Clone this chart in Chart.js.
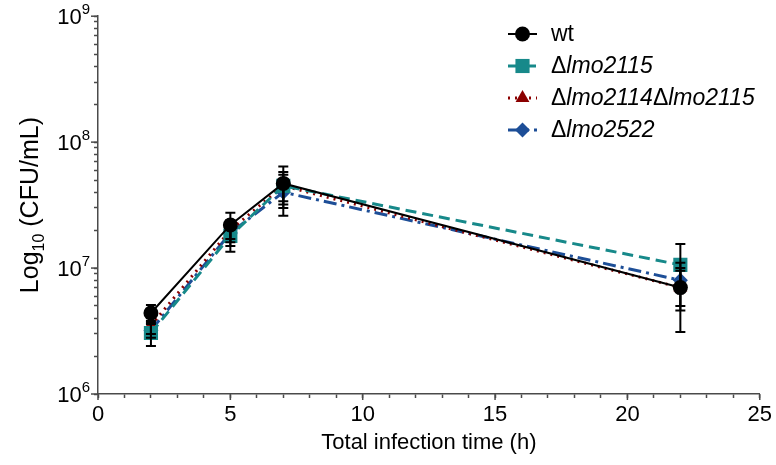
<!DOCTYPE html>
<html><head><meta charset="utf-8">
<script src="https://cdn.jsdelivr.net/npm/chart.js@4.4.1/dist/chart.umd.min.js"></script>
<style>html,body{margin:0;padding:0;background:#fff}#wrap{width:776px;height:465px}</style>
</head><body><div id="wrap"><canvas id="c" width="776" height="465"></canvas></div>
<script>
// ---- data ----
const times = [2, 5, 7, 22];
const seriesNames = ['wt', 'Δlmo2115', 'Δlmo2114Δlmo2115', 'Δlmo2522'];
const wtVals = [4.4e6, 2.2e7, 4.7e7, 7.0e6];
const wtHi   = [5.1e6, 2.75e7, 6.4e7, 1.0e7];
const wtLo   = [3.8e6, 1.7e7, 3.4e7, 4.6e6];
const d2115Vals = [3.05e6, 1.8e7, 4.5e7, 1.06e7];
const d2115Hi   = [3.6e6, 2.2e7, 5.5e7, 1.55e7];
const d2115Lo   = [2.4e6, 1.35e7, 2.6e7, 7.2e6];
const d2114Vals = [3.5e6, 2.0e7, 4.5e7, 7.0e6];
const d2114Hi   = [4.0e6, 2.4e7, 5.8e7, 9.5e6];
const d2114Lo   = [3.0e6, 1.6e7, 3.2e7, 5.0e6];
const d2522Vals = [3.2e6, 1.9e7, 4.0e7, 8.0e6];
const d2522Hi   = [3.7e6, 2.2e7, 5.0e7, 1.1e7];
const d2522Lo   = [2.8e6, 1.5e7, 3.0e7, 3.1e6];
const yExps = [6, 7, 8, 9];
const xTickStep = 1;
const xLabelEvery = 5;

const FONT = '"Liberation Sans", Arial, Helvetica, sans-serif';
const AXIS = '#4a4a4a';
const pts = vals => times.map((t, i) => ({x: t, y: vals[i]}));

const styles = [
  {color: '#000000', dash: [], lw: 2, ps: 'circle', r: 7.5},
  {color: '#17898a', dash: [11, 6], lw: 3, ps: 'rect', r: 10},
  {color: '#8b0000', dash: [2, 5], lw: 3, ps: 'triangle', r: 8},
  {color: '#1d4e97', dash: [13, 5, 3, 5], lw: 3, ps: 'rectRot', r: 7.5},
];
const vals = [wtVals, d2115Vals, d2114Vals, d2522Vals];
const his = [wtHi, d2115Hi, d2114Hi, d2522Hi];
const los = [wtLo, d2115Lo, d2114Lo, d2522Lo];

const datasets = vals.map((v, i) => ({
  label: seriesNames[i],
  data: pts(v),
  errHi: his[i], errLo: los[i],
  borderColor: styles[i].color,
  backgroundColor: styles[i].color,
  borderDash: styles[i].dash,
  borderWidth: styles[i].lw,
  pointStyle: styles[i].ps,
  pointRadius: styles[i].r,
  pointHoverRadius: styles[i].r,
  pointBorderWidth: 0,
  pointBackgroundColor: styles[i].color,
  tension: 0,
}));

const errorBars = {
  id: 'errorBars',
  afterDatasetsDraw(chart) {
    const ctx = chart.ctx, xs = chart.scales.x, ys = chart.scales.y;
    ctx.save();
    ctx.strokeStyle = '#000'; ctx.lineWidth = 2; ctx.setLineDash([]);
    chart.data.datasets.forEach(ds => {
      ds.data.forEach((p, i) => {
        const x = xs.getPixelForValue(p.x);
        const yh = ys.getPixelForValue(ds.errHi[i]);
        const yl = ys.getPixelForValue(ds.errLo[i]);
        ctx.beginPath();
        ctx.moveTo(x, yh); ctx.lineTo(x, yl);
        ctx.moveTo(x - 5, yh); ctx.lineTo(x + 5, yh);
        ctx.moveTo(x - 5, yl); ctx.lineTo(x + 5, yl);
        ctx.stroke();
      });
    });
    ctx.restore();
  }
};

const extras = {
  id: 'extras',
  afterDraw(chart) {
    const ctx = chart.ctx, ys = chart.scales.y, xs = chart.scales.x;
    const left = chart.chartArea.left, bottom = chart.chartArea.bottom;
    ctx.save();
    ctx.fillStyle = '#000';
    ctx.textBaseline = 'alphabetic';
    ctx.strokeStyle = AXIS; ctx.lineWidth = 1.5;
    yExps.forEach(e => {
      const y = ys.getPixelForValue(Math.pow(10, e));
      const sup = String(e);
      ctx.font = '15px ' + FONT;
      const sw = ctx.measureText(sup).width;
      ctx.textAlign = 'right';
      ctx.fillText(sup, left - 8, y - 2);
      ctx.font = '22px ' + FONT;
      ctx.fillText('10', left - 8 - sw, y + 8);
      ctx.beginPath(); ctx.moveTo(left - 7, y); ctx.lineTo(left, y); ctx.stroke();
    });
    // longer major x ticks
    for (let v = 0; v <= 25; v += xLabelEvery) {
      const x = xs.getPixelForValue(v);
      ctx.beginPath(); ctx.moveTo(x, bottom); ctx.lineTo(x, bottom + 6); ctx.stroke();
    }
    // y title with subscript
    ctx.translate(30, (chart.chartArea.top + chart.chartArea.bottom) / 2);
    ctx.rotate(-Math.PI / 2);
    const f1 = '25px ' + FONT, f2 = '16px ' + FONT;
    const parts = [['Log', f1, 0], ['10', f2, 6], [' (CFU/mL)', f1, 0]];
    let total = 0;
    parts.forEach(p => { ctx.font = p[1]; total += ctx.measureText(p[0]).width; });
    let cx = -total / 2;
    ctx.textAlign = 'left';
    parts.forEach(p => { ctx.font = p[1]; ctx.fillText(p[0], cx, 8 + p[2]); cx += ctx.measureText(p[0]).width; });
    ctx.restore();

    // legend
    ctx.save();
    const rowY = [34, 66, 98, 130];
    chart.data.datasets.forEach((ds, i) => {
      const y = rowY[i];
      ctx.strokeStyle = ds.borderColor; ctx.lineWidth = ds.borderWidth;
      ctx.setLineDash(ds.borderDash);
      ctx.beginPath(); ctx.moveTo(508, y); ctx.lineTo(537, y); ctx.stroke();
      ctx.setLineDash([]);
      ctx.fillStyle = ds.backgroundColor;
      Chart.helpers.drawPoint(ctx, {pointStyle: ds.pointStyle, radius: ds.pointRadius, rotation: 0, borderWidth: 0}, 522.5, y);
      ctx.fillStyle = '#000'; ctx.textAlign = 'left'; ctx.textBaseline = 'middle';
      let tx = 551;
      const segs = ds.label.split(/(Δ)/).filter(s => s.length);
      segs.forEach(s => {
        const italic = (s !== 'Δ' && s !== 'wt');
        ctx.font = (italic ? 'italic ' : '') + '23px ' + FONT;
        ctx.fillText(s, tx, y + 1);
        tx += ctx.measureText(s).width;
      });
    });
    ctx.restore();
  }
};

new Chart(document.getElementById('c'), {
  type: 'line',
  data: {datasets},
  options: {
    responsive: false,
    devicePixelRatio: 1,
    animation: false,
    layout: {padding: {top: 15, right: 14, left: 0, bottom: 0}},
    plugins: {legend: {display: false}, tooltip: {enabled: false}},
    scales: {
      x: {
        type: 'linear', min: 0, max: 25,
        afterFit(s) { s.height = 71; },
        border: {color: AXIS, width: 1.5},
        grid: {drawOnChartArea: false, drawTicks: true, tickLength: 4, color: AXIS, tickColor: AXIS, tickWidth: 1.5},
        ticks: {stepSize: xTickStep, autoSkip: false, maxRotation: 0, color: '#000', padding: 4,
          font: {family: FONT, size: 22},
          callback: v => (v % xLabelEvery === 0 ? String(v) : '')},
        title: {display: true, text: 'Total infection time (h)', color: '#000', font: {family: FONT, size: 22}, padding: {top: 0, bottom: 9}}
      },
      y: {
        type: 'logarithmic', min: 1e6, max: 1e9,
        afterFit(s) { s.width = 98; },
        afterBuildTicks(s) {
          const t = [];
          for (let e = yExps[0]; e < yExps[yExps.length - 1]; e++) {
            for (let k = 1; k <= 9; k++) t.push({value: k * Math.pow(10, e)});
          }
          t.push({value: Math.pow(10, yExps[yExps.length - 1])});
          s.ticks = t;
        },
        border: {color: AXIS, width: 1.5},
        grid: {drawOnChartArea: false, drawTicks: true, tickLength: 4, tickColor: AXIS, tickWidth: 1.5},
        ticks: {autoSkip: false, callback: () => '', font: {family: FONT, size: 22}}
      }
    }
  },
  plugins: [errorBars, extras]
});
</script>
</body></html>
